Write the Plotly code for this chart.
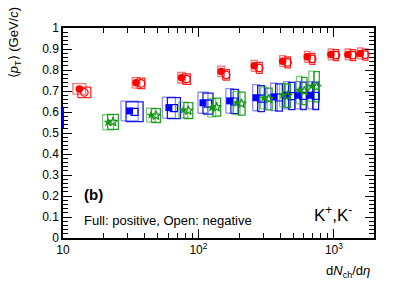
import plotly.graph_objects as go

# ---------------- data ----------------
# red: circles
red_x = [13.2, 34.6, 75, 147, 258, 418, 635, 950, 1268, 1563]
red_pos = [0.710, 0.739, 0.763, 0.793, 0.820, 0.842, 0.863, 0.874, 0.874, 0.879]
red_neg = [0.693, 0.736, 0.757, 0.777, 0.810, 0.836, 0.853, 0.871, 0.871, 0.873]
red_sys = [0.025, 0.025, 0.025, 0.025, 0.026, 0.026, 0.026, 0.026, 0.026, 0.026]
red_xsys = [0.048, 0.028, 0.028, 0.025, 0.022, 0.021, 0.020, 0.020, 0.020, 0.020]

# blue: squares
blue_x = [31.0, 60.5, 108, 170, 266, 361, 448, 545, 673]
blue_pos = [0.605, 0.621, 0.644, 0.653, 0.668, 0.672, 0.680, 0.680, 0.680]
blue_neg = [0.601, 0.618, 0.640, 0.650, 0.664, 0.669, 0.676, 0.677, 0.677]
blue_sys = [0.047, 0.050, 0.050, 0.058, 0.062, 0.065, 0.065, 0.065, 0.065]
blue_xsys = [0.063, 0.048, 0.037, 0.028, 0.025, 0.025, 0.023, 0.022, 0.022]

# green: stars
green_x = [21.5, 44.6, 77.3, 125, 191, 304, 418, 555, 684]
green_pos = [0.551, 0.585, 0.609, 0.620, 0.643, 0.667, 0.680, 0.704, 0.723]
green_neg = [0.553, 0.583, 0.607, 0.623, 0.640, 0.662, 0.678, 0.700, 0.720]
green_sys = [0.036, 0.033, 0.038, 0.043, 0.055, 0.052, 0.056, 0.065, 0.072]
green_xsys = [0.040, 0.033, 0.033, 0.030, 0.026, 0.024, 0.022, 0.020, 0.020]

x_tickvals = [10, 100, 1000]
x_ticktext = ["10", "10<sup>2</sup>", "10<sup>3</sup>"]
y_tickvals = [0, 0.1, 0.2, 0.3, 0.4, 0.5, 0.6, 0.7, 0.8, 0.9, 1.0]
y_ticktext = ["0", "0.1", "0.2", "0.3", "0.4", "0.5", "0.6", "0.7", "0.8", "0.9", "1"]

# ---------------- style ----------------
OPEN_SHIFT = 0.037  # log10 offset of the open (negative) points
FONT = "Liberation Sans, Arial, sans-serif"


def shifted(xs, s):
    return [x * 10 ** s for x in xs]


def box_path(xs, ys, sy, sx, shift):
    px, py = [], []
    for x, y, dy, dx in zip(xs, ys, sy, sx):
        xc = x * 10 ** shift
        x0, x1 = xc * 10 ** (-dx), xc * 10 ** dx
        px += [x0, x1, x1, x0, x0, None]
        py += [y - dy, y - dy, y + dy, y + dy, y - dy, None]
    return px, py


fig = go.Figure()

series = [
    (red_x, red_pos, red_neg, red_sys, red_xsys, "rgb(255,0,0)",
     "rgba(255,0,0,0.55)", "rgba(255,0,0,0.85)", "circle", 7.5),
    (blue_x, blue_pos, blue_neg, blue_sys, blue_xsys, "rgb(0,0,255)",
     "rgba(0,0,255,0.45)", "rgba(0,0,230,0.9)", "square", 7),
    (green_x, green_pos, green_neg, green_sys, green_xsys, "rgb(20,150,20)",
     "rgba(20,160,20,0.55)", "rgba(20,150,20,0.9)", "star", 7),
]

for xs, yp, yn, sy, sx, col, boxc_full, boxc_open, sym, msz in series:
    bx, by = box_path(xs, yp, sy, sx, 0.0)
    fig.add_trace(go.Scatter(x=bx, y=by, mode="lines",
                             line=dict(color=boxc_full, width=1.3),
                             hoverinfo="skip", showlegend=False))
    bx, by = box_path(xs, yn, sy, sx, OPEN_SHIFT)
    fig.add_trace(go.Scatter(x=bx, y=by, mode="lines",
                             line=dict(color=boxc_open, width=1.3),
                             hoverinfo="skip", showlegend=False))

for xs, yp, yn, sy, sx, col, boxc_full, boxc_open, sym, msz in series:
    fig.add_trace(go.Scatter(x=shifted(xs, OPEN_SHIFT), y=yn, mode="markers",
                             marker=dict(symbol=sym + "-open", size=msz, color=col,
                                         line=dict(color=col, width=1.2)),
                             showlegend=False))
    fig.add_trace(go.Scatter(x=xs, y=yp, mode="markers",
                             marker=dict(symbol=sym, size=msz, color=col,
                                         line=dict(width=0)),
                             showlegend=False))

minor_x = [20, 30, 40, 50, 60, 70, 80, 90, 200, 300, 400, 500, 600, 700, 800, 900]

fig.update_xaxes(type="log", range=[1, 3.296], showgrid=False, zeroline=False,
                 showline=True, linecolor="black", linewidth=1.5, mirror="ticks",
                 ticks="inside", ticklen=9, tickwidth=1, tickcolor="black",
                 tickmode="array", tickvals=x_tickvals, ticktext=x_ticktext,
                 tickfont=dict(family=FONT, size=12, color="black"),
                 automargin=False,
                 minor=dict(ticks="inside", ticklen=5, tickwidth=1, tickcolor="black",
                            tickmode="array", tickvals=minor_x, showgrid=False))
fig.update_yaxes(range=[0, 1], showgrid=False, zeroline=False,
                 showline=True, linecolor="black", linewidth=1.5, mirror="ticks",
                 ticks="inside", ticklen=9, tickwidth=1, tickcolor="black",
                 tickmode="array", tickvals=y_tickvals, ticktext=y_ticktext,
                 tickfont=dict(family=FONT, size=12, color="black"),
                 automargin=False,
                 minor=dict(ticks="inside", ticklen=5, tickwidth=1, tickcolor="black",
                            dtick=0.02, tick0=0, showgrid=False))

fig.add_shape(type="line", xref="paper", yref="y", x0=0, x1=0, y0=0.523, y1=0.625,
              line=dict(color="blue", width=2))

annos = [
    dict(text="⟨<i>p</i><sub>T</sub>⟩ (GeV/<i>c</i>)", x=-0.155, y=1.11, xanchor="center",
         yanchor="top", textangle=-90, font=dict(size=13)),
    dict(text="d<i>N</i><sub>ch</sub>/d<i>η</i>", x=0.995, y=-0.11, xanchor="right",
         yanchor="top", font=dict(size=13)),
    dict(text="<b>(b)</b>", x=0.062, y=0.205, xanchor="left", yanchor="middle",
         font=dict(size=15)),
    dict(text="Full: positive, Open: negative", x=0.062, y=0.085, xanchor="left",
         yanchor="middle", font=dict(size=13)),
    dict(text="K<sup>+</sup>,K<sup>-</sup>", x=0.935, y=0.115, xanchor="right",
         yanchor="middle", font=dict(size=17)),
]
for a in annos:
    fig.add_annotation(xref="paper", yref="paper", showarrow=False,
                       font_family=FONT, font_color="black", **a)

fig.update_layout(width=415, height=281, margin=dict(l=63, r=41, t=28, b=43),
                  paper_bgcolor="white", plot_bgcolor="white",
                  font=dict(family=FONT, color="black"), showlegend=False)

fig.write_html("out.html", config={"displayModeBar": False},
               post_script="document.body.style.margin='0';document.body.style.padding='0';")
